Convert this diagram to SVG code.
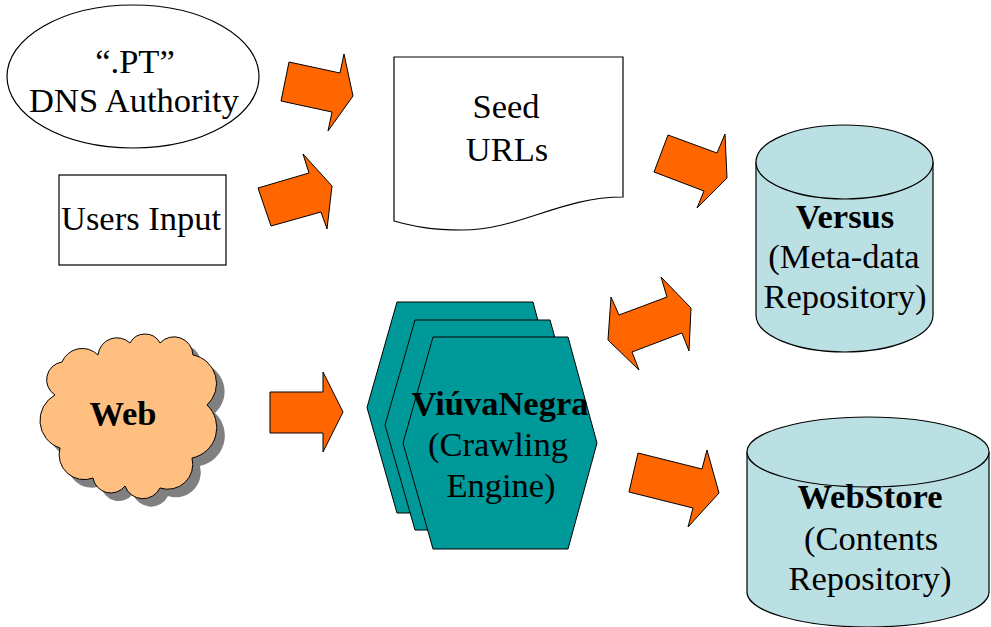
<svg xmlns="http://www.w3.org/2000/svg" width="991" height="627" viewBox="0 0 991 627">
<style>
.t{font-family:"Liberation Serif","Times New Roman",serif;font-size:34.5px;fill:#000;text-anchor:middle}
.b{font-weight:bold}
.arr{fill:#FF6600;stroke:#000;stroke-width:1;stroke-linejoin:miter}
.ln{stroke:#000;stroke-width:1.2}
.cyl{fill:#BBE0E3;stroke:#000;stroke-width:1.2}
.hex{fill:#009999;stroke:#000;stroke-width:1}
</style>
<defs>
<path id="cloud" d="M98,355 A19,19 0 0 1 130,343 A17,17 0 0 1 160,343 A19,19 0 0 1 193,355 A29,29 0 0 1 207,405 A31,31 0 0 1 192,458 A25,25 0 0 1 160,488 A19,19 0 0 1 125,486 A18,18 0 0 1 93,478 A25,25 0 0 1 60,448 A29,29 0 0 1 55,395 A18,18 0 0 1 62,362 A22,22 0 0 1 98,355 Z"/>
</defs>
<rect width="991" height="627" fill="#fff"/>
<g id="dns">
<ellipse cx="133" cy="76.5" rx="126" ry="71.5" fill="#fff" class="ln"/>
<text class="t" x="135" y="73">“.PT”</text>
<text class="t" x="134" y="112">DNS Authority</text>
</g>
<g id="users">
<rect x="59" y="175" width="167" height="90" fill="#fff" class="ln"/>
<text class="t" x="141" y="230">Users Input</text>
</g>
<g id="seed">
<path d="M394,57 H623 V197 C560,197 520,230 462,230 C430,230 412,226 394,221 Z" fill="#fff" class="ln"/>
<text class="t" x="506" y="118">Seed</text>
<text class="t" x="507" y="161">URLs</text>
</g>
<g id="web">
<use href="#cloud" transform="translate(8,8)" fill="#808080"/>
<use href="#cloud" fill="#FFBF80" stroke="#000" stroke-width="1"/>
<text class="t b" x="123" y="425">Web</text>
</g>
<g id="viuvanegra">
<polygon class="hex" points="397,302 533,302 561,407.5 533,513 397,513 367,407.5"/>
<polygon class="hex" points="415,320 550,320 579,425 550,530 415,530 385,425"/>
<polygon class="hex" points="433,337 568,337 597,443 568,549 433,549 403,443"/>
<text class="t b" x="500" y="415">ViúvaNegra</text>
<text class="t" x="498" y="456">(Crawling</text>
<text class="t" x="501" y="497">Engine)</text>
</g>
<g id="versus">
<path class="cyl" d="M756,162 V315 A88.5,37 0 0 0 933,315 V162"/>
<ellipse class="cyl" cx="844.5" cy="162" rx="88.5" ry="37"/>
<text class="t b" x="845" y="228">Versus</text>
<text class="t" x="844" y="268">(Meta-data</text>
<text class="t" x="845" y="308">Repository)</text>
</g>
<g id="webstore">
<path class="cyl" d="M747,452 V592 A121,35 0 0 0 989,592 V452"/>
<ellipse class="cyl" cx="868" cy="452" rx="121" ry="35"/>
<text class="t b" x="870" y="508">WebStore</text>
<text class="t" x="871" y="550">(Contents</text>
<text class="t" x="870" y="590">Repository)</text>
</g>
<g id="connectors">
<polygon class="arr" points="289,62 340,73 344,54 353,96 328,131 332,112 281,101"/>
<polygon class="arr" points="258,188 309,173 303,154 332,186 327,229 321,212 271,226"/>
<polygon class="arr" points="668,135 717,153 725,134 727,178 697,208 704,191 654,172"/>
<polygon class="arr" points="611,297 619,315 667,297 661,277 691,308 689,351 682,333 632,352 639,370 608,340"/>
<polygon class="arr" points="270,392 323,392 323,372 343,412 323,452 323,433 270,433"/>
<polygon class="arr" points="638,453 702,469 707,450 719,493 688,527 693,508 629,492"/>
</g>
</svg>
